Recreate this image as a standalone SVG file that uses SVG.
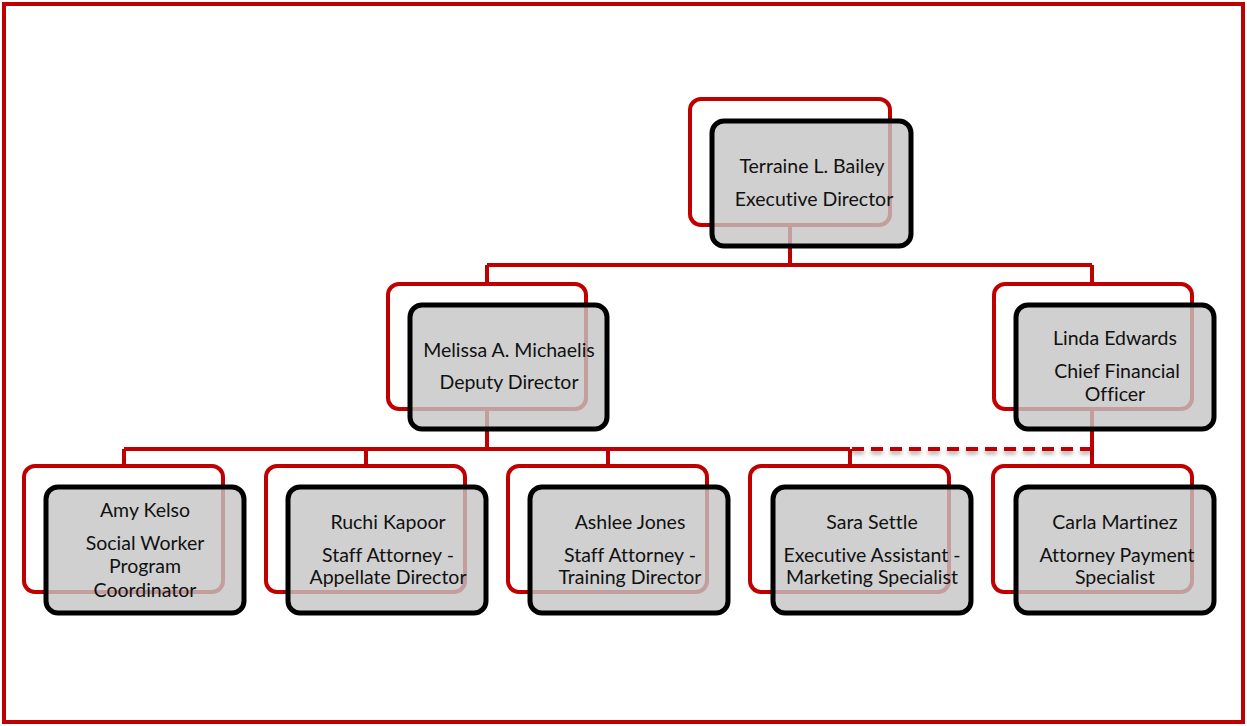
<svg xmlns="http://www.w3.org/2000/svg" width="1247" height="726" viewBox="0 0 1247 726">
<defs>
<style>
.frame{fill:none;stroke:#c00000;stroke-width:4}
.red{fill:none;stroke:#c00000;stroke-width:4}
.box{fill:#c4c4c4;fill-opacity:0.8;stroke:#000;stroke-width:5}
.ln{fill:none;stroke:#c00000;stroke-width:4}
.dash{fill:none;stroke:#c00000;stroke-width:4;stroke-dasharray:12 7}
text{font-family:Lato,"Liberation Sans",sans-serif;font-size:19.5px;fill:#111;text-anchor:middle;font-variant-ligatures:none}
</style>
<filter id="sh" filterUnits="userSpaceOnUse" x="830" y="430" width="280" height="40">
<feDropShadow dx="0" dy="3" stdDeviation="2" flood-color="#000" flood-opacity="0.35"/>
</filter>
</defs>
<rect width="1247" height="726" fill="#fff"/>
<rect class="frame" x="4" y="4" width="1239" height="718"/>
<g id="connectors">
<path class="ln" d="M790 225V265M487 265H1092M487 265V284M1092 265V284"/>
<path class="ln" d="M487 409V449M124 449H850M124 449V466M366 449V466M608 449V466M850 449V466M1092 409V466"/>
<path class="dash" d="M852 449H1092" filter="url(#sh)"/>
</g>
<g id="n-bailey">
<rect class="red" x="690" y="99" width="200" height="126" rx="11"/>
<rect class="box" x="712" y="121" width="199" height="125" rx="12"/>
<text x="812" y="173">Terraine L. Bailey</text>
<text x="814" y="206">Executive Director</text>
</g>
<g id="n-michaelis">
<rect class="red" x="388" y="284" width="198" height="125" rx="11"/>
<rect class="box" x="410" y="305" width="197" height="124" rx="12"/>
<text x="509" y="357">Melissa A. Michaelis</text>
<text x="509" y="389">Deputy Director</text>
</g>
<g id="n-edwards">
<rect class="red" x="994" y="284" width="198" height="125" rx="11"/>
<rect class="box" x="1016" y="305" width="198" height="124" rx="12"/>
<text x="1115" y="345">Linda Edwards</text>
<text x="1117" y="378">Chief Financial</text>
<text x="1115" y="401">Officer</text>
</g>
<g id="n-kelso">
<rect class="red" x="24" y="466" width="199" height="126" rx="11"/>
<rect class="box" x="46" y="487" width="198" height="126" rx="12"/>
<text x="145" y="517">Amy Kelso</text>
<text x="145" y="550">Social Worker</text>
<text x="145" y="573">Program</text>
<text x="145" y="597">Coordinator</text>
</g>
<g id="n-kapoor">
<rect class="red" x="266" y="466" width="199" height="126" rx="11"/>
<rect class="box" x="288" y="487" width="198" height="126" rx="12"/>
<text x="388" y="529">Ruchi Kapoor</text>
<text x="388" y="562">Staff Attorney -</text>
<text x="388" y="584">Appellate Director</text>
</g>
<g id="n-jones">
<rect class="red" x="508" y="466" width="199" height="126" rx="11"/>
<rect class="box" x="530" y="487" width="198" height="126" rx="12"/>
<text x="630" y="529">Ashlee Jones</text>
<text x="630" y="562">Staff Attorney -</text>
<text x="630" y="584">Training Director</text>
</g>
<g id="n-settle">
<rect class="red" x="750" y="466" width="199" height="126" rx="11"/>
<rect class="box" x="773" y="487" width="198" height="126" rx="12"/>
<text x="872" y="529">Sara Settle</text>
<text x="872" y="562">Executive Assistant -</text>
<text x="872" y="584">Marketing Specialist</text>
</g>
<g id="n-martinez">
<rect class="red" x="993" y="466" width="199" height="126" rx="11"/>
<rect class="box" x="1016" y="487" width="198" height="126" rx="12"/>
<text x="1115" y="529">Carla Martinez</text>
<text x="1117" y="562">Attorney Payment</text>
<text x="1115" y="584">Specialist</text>
</g>
</svg>
